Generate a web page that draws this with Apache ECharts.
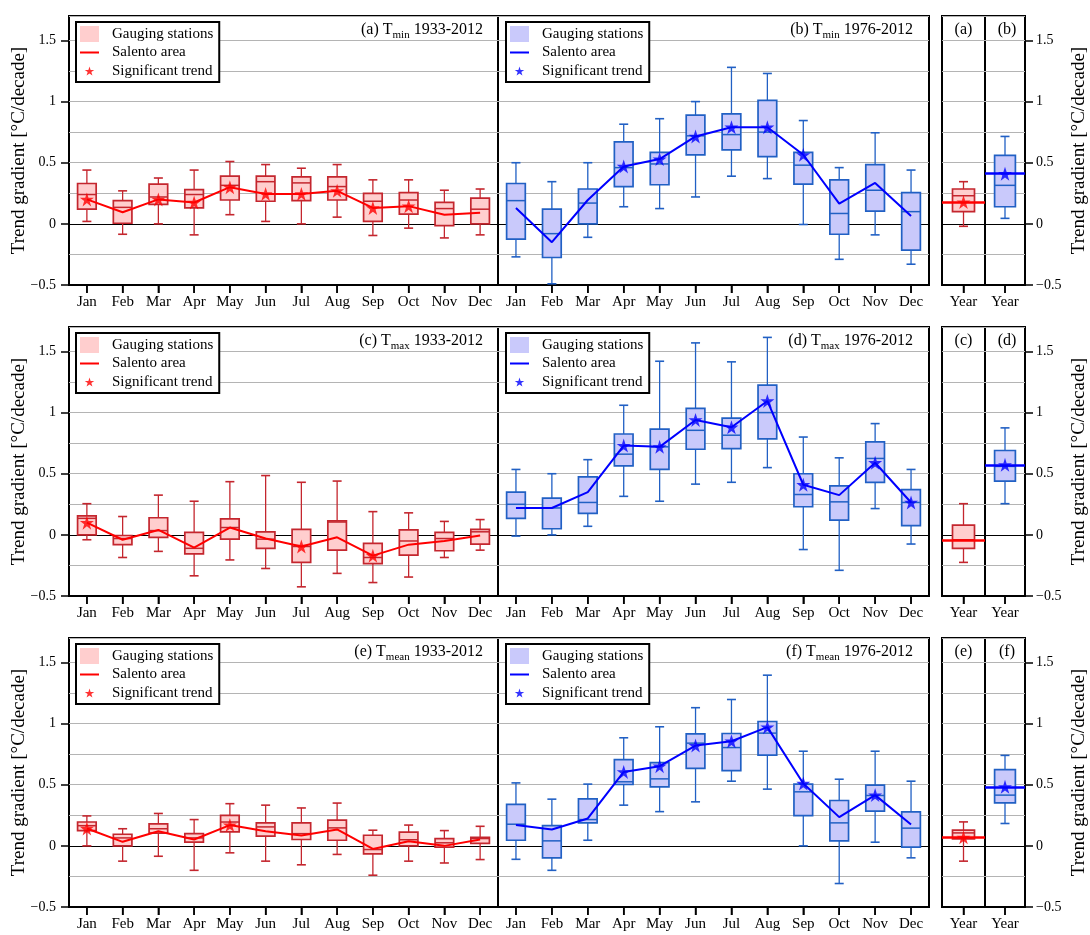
<!DOCTYPE html>
<html>
<head>
<meta charset="utf-8">
<title>Trend gradients of temperature, Salento</title>
<style>
  html, body { margin: 0; padding: 0; background: #fff; }
  #chart { width: 1090px; height: 935px; }
</style>
<script src="https://cdn.jsdelivr.net/npm/echarts@6.0.0/dist/echarts.min.js"></script>
</head>
<body>
<div id="chart"></div>
<script>
// ---------------------------------------------------------------------------
// Data: monthly trend gradients [°C/decade] at the gauging stations.
// Each box row is [lower whisker, Q1, median, Q3, upper whisker].
// ---------------------------------------------------------------------------
const months = ['Jan', 'Feb', 'Mar', 'Apr', 'May', 'Jun', 'Jul', 'Aug', 'Sep', 'Oct', 'Nov', 'Dec'];
const yearCategory = ['Year'];
const yTickValues = [-0.5, 0, 0.5, 1, 1.5];

// (a) Tmin 1933-2012
const tminBoxLong = [
  [0.02, 0.12, 0.24, 0.33, 0.44], [-0.085, 0.005, 0.135, 0.19, 0.27], [0.0, 0.16, 0.22, 0.325, 0.375],
  [-0.09, 0.13, 0.24, 0.28, 0.44], [0.075, 0.195, 0.315, 0.39, 0.51], [0.02, 0.185, 0.345, 0.39, 0.485],
  [0.0, 0.19, 0.335, 0.385, 0.455], [0.055, 0.195, 0.305, 0.385, 0.485], [-0.095, 0.02, 0.185, 0.25, 0.36],
  [-0.035, 0.08, 0.195, 0.255, 0.36], [-0.115, -0.015, 0.125, 0.175, 0.275], [-0.09, 0.0, 0.12, 0.21, 0.285]
];
const tminAreaLong = [0.20, 0.095, 0.20, 0.175, 0.30, 0.245, 0.245, 0.27, 0.13, 0.145, 0.075, 0.09];
const tminSigLong = [1, 0, 1, 1, 1, 1, 1, 1, 1, 1, 0, 0];
const tminYearBoxLong = [-0.02, 0.10, 0.23, 0.285, 0.345];
const tminYearAreaLong = 0.178;
const tminYearSigLong = 1;

// (b) Tmin 1976-2012
const tminBoxShort = [
  [-0.27, -0.125, 0.19, 0.33, 0.50], [-0.49, -0.275, -0.08, 0.12, 0.345], [-0.11, 0.0, 0.17, 0.285, 0.50],
  [0.14, 0.305, 0.46, 0.67, 0.815], [0.125, 0.32, 0.49, 0.585, 0.86], [0.22, 0.565, 0.72, 0.89, 1.0],
  [0.39, 0.605, 0.73, 0.90, 1.28], [0.37, 0.55, 0.75, 1.01, 1.23], [-0.005, 0.325, 0.48, 0.585, 0.845],
  [-0.29, -0.085, 0.085, 0.36, 0.46], [-0.09, 0.105, 0.275, 0.485, 0.745], [-0.33, -0.215, 0.10, 0.255, 0.44]
];
const tminAreaShort = [0.13, -0.15, 0.195, 0.47, 0.53, 0.715, 0.79, 0.79, 0.565, 0.165, 0.335, 0.065];
const tminSigShort = [0, 0, 0, 1, 1, 1, 1, 1, 1, 0, 0, 0];
const tminYearBoxShort = [0.045, 0.14, 0.315, 0.56, 0.715];
const tminYearAreaShort = 0.41;
const tminYearSigShort = 1;

// (c) Tmax 1933-2012
const tmaxBoxLong = [
  [-0.04, 0.0, 0.135, 0.155, 0.255], [-0.185, -0.08, -0.03, -0.005, 0.15], [-0.135, -0.02, 0.035, 0.14, 0.325],
  [-0.335, -0.155, -0.11, 0.02, 0.275], [-0.205, -0.035, 0.06, 0.13, 0.435], [-0.275, -0.11, -0.035, 0.025, 0.485],
  [-0.425, -0.225, -0.095, 0.045, 0.43], [-0.315, -0.125, 0.105, 0.115, 0.44], [-0.39, -0.235, -0.185, -0.07, 0.19],
  [-0.345, -0.165, -0.05, 0.04, 0.18], [-0.185, -0.13, -0.03, 0.02, 0.11], [-0.125, -0.075, 0.025, 0.045, 0.125]
];
const tmaxAreaLong = [0.10, -0.04, 0.04, -0.105, 0.06, -0.03, -0.095, -0.02, -0.17, -0.08, -0.05, -0.005];
const tmaxSigLong = [1, 0, 0, 0, 0, 0, 1, 0, 1, 0, 0, 0];
const tmaxYearBoxLong = [-0.225, -0.11, -0.04, 0.08, 0.255];
const tmaxYearAreaLong = -0.044;
const tmaxYearSigLong = 0;

// (d) Tmax 1976-2012
const tmaxBoxShort = [
  [-0.01, 0.135, 0.25, 0.35, 0.535], [0.0, 0.05, 0.22, 0.30, 0.50], [0.07, 0.175, 0.265, 0.475, 0.615],
  [0.315, 0.565, 0.66, 0.825, 1.06], [0.275, 0.535, 0.72, 0.865, 1.42], [0.415, 0.70, 0.855, 1.035, 1.57],
  [0.43, 0.705, 0.815, 0.955, 1.415], [0.55, 0.785, 1.0, 1.225, 1.615], [-0.12, 0.23, 0.33, 0.50, 0.80],
  [-0.29, 0.12, 0.27, 0.40, 0.63], [0.215, 0.43, 0.625, 0.76, 0.91], [-0.075, 0.075, 0.265, 0.37, 0.535]
];
const tmaxAreaShort = [0.22, 0.22, 0.35, 0.73, 0.72, 0.94, 0.88, 1.095, 0.41, 0.325, 0.59, 0.265];
const tmaxSigShort = [0, 0, 0, 1, 1, 1, 1, 1, 1, 0, 1, 1];
const tmaxYearBoxShort = [0.255, 0.44, 0.56, 0.69, 0.875];
const tmaxYearAreaShort = 0.573;
const tmaxYearSigShort = 1;

// (e) Tmean 1933-2012
const tmeanBoxLong = [
  [0.0, 0.125, 0.165, 0.195, 0.245], [-0.125, 0.0, 0.065, 0.095, 0.14], [-0.085, 0.105, 0.14, 0.18, 0.265],
  [-0.20, 0.03, 0.065, 0.10, 0.215], [-0.057, 0.115, 0.195, 0.25, 0.345], [-0.125, 0.08, 0.155, 0.188, 0.333],
  [-0.155, 0.052, 0.10, 0.188, 0.31], [-0.07, 0.046, 0.147, 0.21, 0.35], [-0.24, -0.065, -0.03, 0.087, 0.128],
  [-0.125, 0.0, 0.05, 0.112, 0.17], [-0.14, -0.01, 0.025, 0.06, 0.125], [-0.112, 0.02, 0.06, 0.07, 0.16]
];
const tmeanAreaLong = [0.142, 0.033, 0.12, 0.052, 0.17, 0.12, 0.085, 0.134, -0.025, 0.038, 0.0, 0.052];
const tmeanSigLong = [1, 0, 0, 0, 1, 0, 0, 0, 0, 0, 0, 0];
const tmeanYearBoxLong = [-0.125, 0.057, 0.106, 0.128, 0.196];
const tmeanYearAreaLong = 0.07;
const tmeanYearSigLong = 1;

// (f) Tmean 1976-2012
const tmeanBoxShort = [
  [-0.11, 0.046, 0.177, 0.34, 0.515], [-0.2, -0.098, 0.041, 0.166, 0.382], [0.046, 0.188, 0.215, 0.385, 0.505],
  [0.333, 0.502, 0.524, 0.706, 0.884], [0.28, 0.483, 0.548, 0.68, 0.974], [0.36, 0.633, 0.84, 0.916, 1.13],
  [0.529, 0.616, 0.804, 0.919, 1.197], [0.464, 0.742, 0.922, 1.017, 1.396], [0.0, 0.248, 0.442, 0.505, 0.774],
  [-0.308, 0.041, 0.188, 0.371, 0.545], [0.03, 0.284, 0.412, 0.496, 0.774], [-0.098, -0.011, 0.145, 0.278, 0.529]
];
const tmeanAreaShort = [0.17, 0.134, 0.224, 0.605, 0.652, 0.82, 0.856, 0.971, 0.51, 0.235, 0.415, 0.175];
const tmeanSigShort = [0, 0, 0, 1, 1, 1, 1, 1, 1, 0, 1, 0];
const tmeanYearBoxShort = [0.183, 0.352, 0.415, 0.624, 0.74];
const tmeanYearAreaShort = 0.483;
const tmeanYearSigShort = 1;

// ---------------------------------------------------------------------------
// Styling
// ---------------------------------------------------------------------------
const FONT = "'Liberation Serif', 'Times New Roman', serif";
const RED = { fill: '#ffcece', edge: '#c4262e', line: '#ff0000' };
const BLUE = { fill: '#c9c9fb', edge: '#2160c4', line: '#0000ff' };
const GRID_GRAY = '#b4b4b4';
const Y_MIN = -0.5, Y_MAX = 1.7;
const TICK_LEN = 8;

const ROW_TOP = [16, 327, 638];
const ROW_H = 269;
const COLS = [
  { left: 69, width: 429 },   // monthly, long period
  { left: 498, width: 431 },  // monthly, short period
  { left: 942, width: 43 },   // annual, long period
  { left: 985, width: 44 }    // annual, short period
];

const rows = [
  { tags: ['(a)', '(b)'], sub: 'min',
    long: { box: tminBoxLong, area: tminAreaLong, sig: tminSigLong, yBox: tminYearBoxLong, yArea: tminYearAreaLong, ySig: tminYearSigLong },
    short: { box: tminBoxShort, area: tminAreaShort, sig: tminSigShort, yBox: tminYearBoxShort, yArea: tminYearAreaShort, ySig: tminYearSigShort } },
  { tags: ['(c)', '(d)'], sub: 'max',
    long: { box: tmaxBoxLong, area: tmaxAreaLong, sig: tmaxSigLong, yBox: tmaxYearBoxLong, yArea: tmaxYearAreaLong, ySig: tmaxYearSigLong },
    short: { box: tmaxBoxShort, area: tmaxAreaShort, sig: tmaxSigShort, yBox: tmaxYearBoxShort, yArea: tmaxYearAreaShort, ySig: tmaxYearSigShort } },
  { tags: ['(e)', '(f)'], sub: 'mean',
    long: { box: tmeanBoxLong, area: tmeanAreaLong, sig: tmeanSigLong, yBox: tmeanYearBoxLong, yArea: tmeanYearAreaLong, ySig: tmeanYearSigLong },
    short: { box: tmeanBoxShort, area: tmeanAreaShort, sig: tmeanSigShort, yBox: tmeanYearBoxShort, yArea: tmeanYearAreaShort, ySig: tmeanYearSigShort } }
];

// Five-pointed star outline as an SVG path.
function starPath(cx, cy, r) {
  const pts = [];
  for (let k = 0; k < 10; k++) {
    const ang = -Math.PI / 2 + k * Math.PI / 5;
    const rad = k % 2 ? r * 0.382 : r;
    pts.push((cx + rad * Math.cos(ang)).toFixed(2) + ',' + (cy + rad * Math.sin(ang)).toFixed(2));
  }
  return 'M' + pts.join('L') + 'Z';
}
const STAR = 'path://' + starPath(10, 10, 10);
// Legend icons live in a 27x16 box; the two zero-area corners pin the box size.
const ICON_FRAME = 'M0,0L0.01,0L0,0.01Z M27,16L26.99,16L27,15.99Z ';
const ICON_BOX = 'path://' + ICON_FRAME + 'M0,0L19,0L19,16L0,16Z';
const ICON_LINE = 'path://' + ICON_FRAME + 'M0,7L19,7L19,9L0,9Z';
const ICON_STAR = 'path://' + ICON_FRAME + starPath(9.5, 8.5, 5);

// Box-and-whisker glyph drawn on the axis scales.
function makeBoxRenderer(col) {
  return function (params, api) {
    const x = api.value(0);
    const pLo = api.coord([x, api.value(1)]);
    const pQ1 = api.coord([x, api.value(2)]);
    const pMed = api.coord([x, api.value(3)]);
    const pQ3 = api.coord([x, api.value(4)]);
    const pHi = api.coord([x, api.value(5)]);
    const band = api.size([1, 0])[0];
    const bw = Math.min(band * 0.52, 22);
    const cap = 4.5;
    const cx = pLo[0];
    const wStyle = { stroke: col.edge, lineWidth: 1.3 };
    return {
      type: 'group',
      children: [
        { type: 'line', shape: { x1: cx, y1: pHi[1], x2: cx, y2: pQ3[1] }, style: wStyle },
        { type: 'line', shape: { x1: cx, y1: pQ1[1], x2: cx, y2: pLo[1] }, style: wStyle },
        { type: 'line', shape: { x1: cx - cap, y1: pHi[1], x2: cx + cap, y2: pHi[1] }, style: { stroke: col.edge, lineWidth: 1.6 } },
        { type: 'line', shape: { x1: cx - cap, y1: pLo[1], x2: cx + cap, y2: pLo[1] }, style: { stroke: col.edge, lineWidth: 1.6 } },
        { type: 'rect', shape: { x: cx - bw / 2, y: pQ3[1], width: bw, height: pQ1[1] - pQ3[1] },
          style: { fill: col.fill, stroke: col.edge, lineWidth: 1.7 } },
        { type: 'line', shape: { x1: cx - bw / 2, y1: pMed[1], x2: cx + bw / 2, y2: pMed[1] },
          style: { stroke: col.edge, lineWidth: 1.5 } }
      ]
    };
  };
}

// ---------------------------------------------------------------------------
// Option assembly
// ---------------------------------------------------------------------------
const grid = [], xAxis = [], yAxis = [], series = [], legend = [], graphic = [];
const splitColors = [GRID_GRAY, GRID_GRAY, '#000000'].concat(new Array(10).fill(GRID_GRAY));
const fmtTick = v => (v < 0 ? '\u2212' + Math.abs(v) : String(v));

rows.forEach((row, r) => {
  const top = ROW_TOP[r];
  COLS.forEach((c, p) => {
    const g = r * 4 + p;
    grid.push({
      left: c.left, top: top, width: c.width, height: ROW_H,
      show: true, borderColor: '#000', borderWidth: 2, backgroundColor: 'transparent',
      containLabel: false
    });
    xAxis.push({
      gridIndex: g, type: 'category', data: p < 2 ? months : yearCategory, boundaryGap: true,
      position: 'bottom',
      axisLine: { show: true, onZero: false, lineStyle: { color: '#000', width: 2 } },
      axisTick: { show: true, inside: false, alignWithLabel: true, length: TICK_LEN, lineStyle: { color: '#000', width: 1.5 } },
      axisLabel: { interval: 0, margin: 10, fontFamily: FONT, fontSize: 15, color: '#000' },
      splitLine: { show: false }
    });
  });
});

// y axes: one grid-line axis per panel, plus labelled axes on the outer panels
const gridAxisIndex = [];
rows.forEach((row, r) => {
  COLS.forEach((c, p) => {
    const g = r * 4 + p;
    gridAxisIndex[g] = yAxis.length;
    yAxis.push({
      gridIndex: g, type: 'value', min: Y_MIN, max: Y_MAX, interval: 0.25,
      axisLine: { show: false }, axisTick: { show: false }, axisLabel: { show: false },
      splitLine: { show: true, lineStyle: { color: splitColors, width: 1 } }
    });
    if (p === 0 || p === 3) {
      yAxis.push({
        gridIndex: g, type: 'value', position: p === 0 ? 'left' : 'right',
        min: Y_MIN, max: Y_MAX, interval: 0.5,
        axisLine: { show: false },
        axisTick: { show: true, length: TICK_LEN, lineStyle: { color: '#000', width: 1.5 }, customValues: yTickValues },
        axisLabel: { show: true, customValues: yTickValues, formatter: fmtTick, margin: p === 0 ? 13 : 11,
                     fontFamily: FONT, fontSize: 14, color: '#000' },
        splitLine: { show: false },
        name: 'Trend gradient [°C/decade]', nameLocation: 'middle', nameRotate: 90,
        nameMoveOverlap: false,
        nameGap: p === 0 ? 40 : 45,
        nameTextStyle: { fontFamily: FONT, fontSize: 19, color: '#000' }
      });
    }
  });
});

function addMonthly(g, d, col) {
  series.push({
    type: 'custom', name: 'Gauging stations', xAxisIndex: g, yAxisIndex: gridAxisIndex[g],
    renderItem: makeBoxRenderer(col), clip: false, silent: true,
    itemStyle: { color: col.fill },
    encode: { x: 0, y: [1, 2, 3, 4, 5] },
    data: d.box.map((b, i) => [i].concat(b)), z: 2
  });
  series.push({
    type: 'line', name: 'Salento area', xAxisIndex: g, yAxisIndex: gridAxisIndex[g],
    data: d.area, symbol: 'none', silent: true,
    lineStyle: { color: col.line, width: 2 }, itemStyle: { color: col.line }, z: 3
  });
  series.push({
    type: 'scatter', name: 'Significant trend', xAxisIndex: g, yAxisIndex: gridAxisIndex[g],
    data: d.area.map((v, i) => (d.sig[i] ? [i, v] : null)).filter(Boolean),
    symbol: STAR, symbolSize: 14, silent: true, itemStyle: { color: col.line }, z: 4
  });
}

function addAnnual(g, d, col) {
  series.push({
    type: 'custom', name: 'Gauging stations', xAxisIndex: g, yAxisIndex: gridAxisIndex[g],
    renderItem: makeBoxRenderer(col), clip: false, silent: true,
    itemStyle: { color: col.fill },
    encode: { x: 0, y: [1, 2, 3, 4, 5] },
    data: [[0].concat(d.yBox)], z: 2
  });
  series.push({
    type: 'line', name: 'Salento area', xAxisIndex: g, yAxisIndex: gridAxisIndex[g],
    data: [d.yArea], symbol: 'none', silent: true,
    lineStyle: { color: col.line, width: 2 }, itemStyle: { color: col.line }, z: 3,
    markLine: {
      silent: true, symbol: ['none', 'none'], label: { show: false },
      lineStyle: { color: col.line, width: 2.6, type: 'solid' },
      emphasis: { disabled: true },
      data: [{ yAxis: d.yArea }]
    }
  });
  series.push({
    type: 'scatter', name: 'Significant trend', xAxisIndex: g, yAxisIndex: gridAxisIndex[g],
    data: d.ySig ? [[0, d.yArea]] : [],
    symbol: STAR, symbolSize: 14, silent: true, itemStyle: { color: col.line }, z: 4
  });
}

function legendFor(left, top, col) {
  return {
    left: left, top: top, orient: 'vertical', selectedMode: false,
    itemWidth: 27, itemHeight: 16, itemGap: 2.5,
    padding: [4, 6, 3, 4], borderColor: '#000', borderWidth: 2, backgroundColor: '#fff',
    textStyle: { fontFamily: FONT, fontSize: 15, color: '#000' },
    data: [
      { name: 'Gauging stations', icon: ICON_BOX, itemStyle: { color: col.fill, borderWidth: 0 } },
      { name: 'Salento area', icon: ICON_LINE, itemStyle: { color: col.line, borderWidth: 0 } },
      { name: 'Significant trend', icon: ICON_STAR, itemStyle: { color: col.line, borderWidth: 0 } }
    ]
  };
}

function panelTitle(x, y, tag, sub, period) {
  return {
    type: 'text', x: x, y: y, z: 10, silent: true,
    style: {
      text: '{m|' + tag + ' T}{s|' + sub + '}{m| ' + period + '}',
      align: 'right', textAlign: 'right', verticalAlign: 'middle', textVerticalAlign: 'middle',
      fill: '#000',
      rich: {
        m: { fontFamily: FONT, fontSize: 16, fill: '#000' },
        s: { fontFamily: FONT, fontSize: 11, fill: '#000', padding: [10, 0, 0, 0] }
      }
    }
  };
}

function panelTag(x, y, tag) {
  return {
    type: 'text', x: x, y: y, z: 10, silent: true,
    style: { text: tag, align: 'center', textAlign: 'center', verticalAlign: 'middle', textVerticalAlign: 'middle',
             fontFamily: FONT, fontSize: 16, fill: '#000' }
  };
}

rows.forEach((row, r) => {
  const top = ROW_TOP[r];
  addMonthly(r * 4 + 0, row.long, RED);
  addMonthly(r * 4 + 1, row.short, BLUE);
  addAnnual(r * 4 + 2, row.long, RED);
  addAnnual(r * 4 + 3, row.short, BLUE);
  legend.push(legendFor(76, top + 6, RED));
  legend.push(legendFor(506, top + 6, BLUE));
  graphic.push(panelTitle(COLS[0].left + COLS[0].width - 15, top + 14, row.tags[0], row.sub, '1933-2012'));
  graphic.push(panelTitle(COLS[1].left + COLS[1].width - 16, top + 14, row.tags[1], row.sub, '1976-2012'));
  graphic.push(panelTag(COLS[2].left + COLS[2].width / 2, top + 14, row.tags[0]));
  graphic.push(panelTag(COLS[3].left + COLS[3].width / 2, top + 14, row.tags[1]));
});

const chart = echarts.init(document.getElementById('chart'), null, { renderer: 'canvas' });
chart.setOption({
  animation: false,
  backgroundColor: '#fff',
  textStyle: { fontFamily: FONT },
  grid, xAxis, yAxis, series, legend
});

// Outward category ticks under each frame, placed through the axes' own scales.
const tickMarks = [];
for (let g = 0; g < grid.length; g++) {
  const cats = xAxis[g].data;
  cats.forEach((cat, i) => {
    const pt = chart.convertToPixel({ xAxisIndex: g, yAxisIndex: gridAxisIndex[g] }, [i, Y_MIN]);
    tickMarks.push({
      type: 'rect', silent: true, z: 100,
      shape: { x: pt[0] - 0.75, y: pt[1], width: 1.5, height: TICK_LEN },
      style: { fill: '#000' }
    });
  });
}
chart.setOption({ graphic: graphic.concat(tickMarks) });
</script>
</body>
</html>
